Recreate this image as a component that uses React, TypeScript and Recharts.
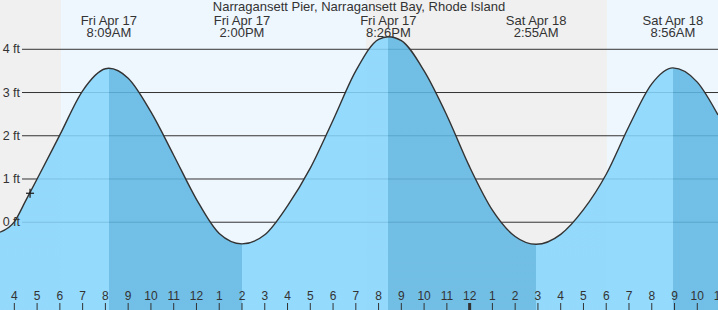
import { ComposedChart, Area, XAxis, YAxis, CartesianGrid, ReferenceArea, ReferenceLine, ReferenceDot } from 'recharts'

// hours since Fri Apr 17 00:00, water level in ft
const hours = [3.37, 4, 4.5, 5, 6, 7, 8, 8.15, 9, 10, 11, 12, 13, 14, 15, 16, 17, 18, 19, 20, 20.43, 21, 22, 23, 24, 25, 26, 26.92, 28, 29, 30, 31, 32, 32.93, 34, 34.91]
const heights = [-0.23, 0.01, 0.5, 1.0, 2.02, 3.04, 3.55, 3.56, 3.33, 2.55, 1.55, 0.53, -0.26, -0.5, -0.29, 0.38, 1.25, 2.36, 3.5, 4.23, 4.29, 4.2, 3.5, 2.47, 1.28, 0.28, -0.33, -0.51, -0.28, 0.29, 1.11, 2.22, 3.2, 3.57, 3.24, 2.48]

const extremeTimes = [8.15, 14.0, 20.43, 26.92, 32.93]
const extremeDays = ['Fri Apr 17', 'Fri Apr 17', 'Fri Apr 17', 'Sat Apr 18', 'Sat Apr 18']
const extremeClock = ['8:09AM', '2:00PM', '8:26PM', '2:55AM', '8:56AM']

// falling tide spans (high -> next low)
const fallStarts = [8.15, 20.43, 32.93]
const fallEnds = [14.0, 26.92, 34.91]

const dayStarts = [6.05, 30.03]
const dayEnds = [19.45, 34.91]

const hourTicks = [4, 5, 6, 7, 8, 9, 10, 11, 12, 13, 14, 15, 16, 17, 18, 19, 20, 21, 22, 23, 24, 25, 26, 27, 28, 29, 30, 31, 32, 33, 34, 35]
const hourLabels = ['4', '5', '6', '7', '8', '9', '10', '11', '12', '1', '2', '3', '4', '5', '6', '7', '8', '9', '10', '11', '12', '1', '2', '3', '4', '5', '6', '7', '8', '9', '10', '11']
const ftTicks = [0, 1, 2, 3, 4]

const nowTime = 4.69
const nowLevel = 0.67

const xDomain = [3.37, 34.91]
const yDomain = [-2.03, 5.14]

const data = hours.map((t, i) => ({ t, h: heights[i] }))

const W = 718
const H = 310
const FONT = '"Liberation Sans", Arial, sans-serif'
const LIGHT = '#86d6fd'
const DARK = '#5fb7e3'

function HourTick (props: any) {
  const { x, payload } = props
  const idx = hourTicks.indexOf(payload.value)
  const midnight = payload.value === 24
  return (
    <g>
      <line x1={x} x2={x} y1={H - 7} y2={H} stroke='#333' strokeWidth={midnight ? 3 : 1} />
      <text x={x} y={H - 10} textAnchor='middle' fontSize={12} fontFamily={FONT} fill='#333'>{hourLabels[idx]}</text>
    </g>
  )
}

function FtTick (props: any) {
  const { y, payload } = props
  return (
    <text x={20} y={y + 4} textAnchor='end' fontSize={12.5} fontFamily={FONT} fill='#333'>{payload.value} ft</text>
  )
}

function ExtremeLabel (props: any) {
  const x = props.viewBox ? props.viewBox.x : 0
  const i = props.idx
  return (
    <text x={x} y={25} textAnchor='middle' fontSize={13} fontFamily={FONT} fill='#333'>
      <tspan x={x}>{extremeDays[i]}</tspan>
      <tspan x={x} dy={11.5}>{extremeClock[i]}</tspan>
    </text>
  )
}

function Plus (props: any) {
  const { cx, cy } = props
  return (
    <g stroke='#222' strokeWidth={1.3}>
      <line x1={cx - 4} x2={cx + 4} y1={cy} y2={cy} />
      <line x1={cx} x2={cx} y1={cy - 4.5} y2={cy + 4.5} />
    </g>
  )
}

export default function App () {
  const span = xDomain[1] - xDomain[0]
  const stops: any[] = []
  fallStarts.forEach((s, i) => {
    const a = ((s - xDomain[0]) / span) * 100
    const b = ((fallEnds[i] - xDomain[0]) / span) * 100
    stops.push(<stop key={'a' + i} offset={a + '%'} stopColor={LIGHT} />)
    stops.push(<stop key={'b' + i} offset={a + '%'} stopColor={DARK} />)
    stops.push(<stop key={'c' + i} offset={b + '%'} stopColor={DARK} />)
    stops.push(<stop key={'d' + i} offset={b + '%'} stopColor={LIGHT} />)
  })

  return (
    <div style={{ position: 'absolute', left: 0, top: 0, width: W, height: H, background: '#f0f0f0', overflow: 'hidden' }}>
      <ComposedChart width={W} height={H} data={data} margin={{ top: 0, right: 0, bottom: 0, left: 0 }}>
        <defs>
          <linearGradient id='water' x1='0' y1='0' x2='1' y2='0'>
            <stop offset='0%' stopColor={LIGHT} />
            {stops}
          </linearGradient>
        </defs>
        {dayStarts.map((s, i) => (
          <ReferenceArea key={i} x1={s} x2={dayEnds[i]} fill='#eef6fe' fillOpacity={1} stroke='none' zIndex={-200} ifOverflow='hidden' />
        ))}
        <CartesianGrid x={22} width={W - 22} horizontalValues={ftTicks} vertical={false} stroke='#333' strokeDasharray='' />
        <XAxis dataKey='t' type='number' domain={xDomain} allowDataOverflow ticks={hourTicks} interval={0} mirror tickLine={false} axisLine={false} tick={<HourTick />} />
        <YAxis type='number' domain={yDomain} allowDataOverflow ticks={ftTicks} interval={0} mirror tickLine={false} axisLine={false} tick={<FtTick />} />
        <Area dataKey='h' type='monotone' baseValue={yDomain[0]} stroke='#333' strokeWidth={1.4} fill='url(#water)' fillOpacity={0.87} isAnimationActive={false} dot={false} activeDot={false} />
        {extremeTimes.map((t, i) => (
          <ReferenceLine key={'e' + i} x={t} stroke='none' label={<ExtremeLabel idx={i} />} />
        ))}
        <ReferenceDot x={nowTime} y={nowLevel} shape={<Plus />} />
      </ComposedChart>
      <svg width={W} height={H} style={{ position: 'absolute', left: 0, top: 0, pointerEvents: 'none' }}>
        <text x={W / 2} y={11} textAnchor='middle' fontSize={13} fontFamily={FONT} fill='#333'>Narragansett Pier, Narragansett Bay, Rhode Island</text>
      </svg>
    </div>
  )
}
